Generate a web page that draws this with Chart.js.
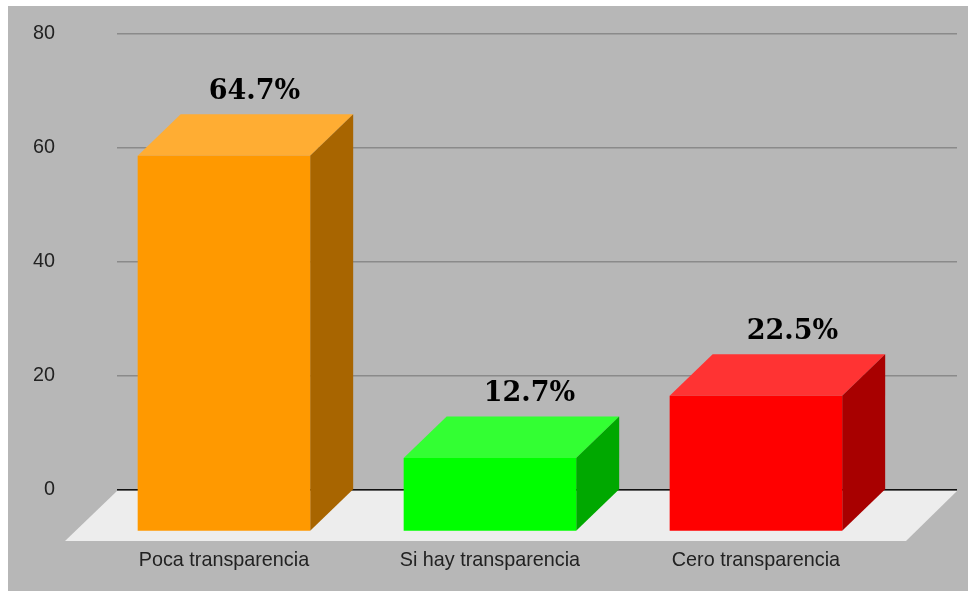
<!DOCTYPE html>
<html>
<head>
<meta charset="utf-8">
<style>
    html, body { margin: 0; padding: 0; background: #fff; overflow: hidden; }
    #panel { position: absolute; left: 8px; top: 6px; right: 0; bottom: 0; background: #b7b7b7; }
    #wrap { position: absolute; left: 0; top: 0; width: 968px; height: 591px; }
</style>
</head>
<body>
<div id="panel"></div>
<div id="wrap"><canvas id="barChart"></canvas></div>
<script src="https://cdn.jsdelivr.net/npm/chart.js@4"></script>
<script>
const categories = ['Poca transparencia', 'Si hay transparencia', 'Cero transparencia'];
const barValues = [65.9, 12.9, 23.8];
const percentLabels = ['64.7%', '12.7%', '22.5%'];
const frontColors = ['#ff9900', '#00ff00', '#ff0000'];
const topColors = ['#ffad33', '#33ff33', '#ff3333'];
const sideColors = ['#a86500', '#00a800', '#a80000'];
const yTicks = [0, 20, 40, 60, 80];

// Сдвиг глубины псевдо-3D
const DEPTH_X = 43;
const DEPTH_Y = 41.5;

function fillPoly(ctx, points, color) {
    ctx.fillStyle = color;
    ctx.beginPath();
    points.forEach((p, i) => i ? ctx.lineTo(p[0], p[1]) : ctx.moveTo(p[0], p[1]));
    ctx.closePath();
    ctx.fill();
}

const floorPlugin = {
    id: 'floor',
    beforeDatasetsDraw(chart) {
        const area = chart.chartArea;
        const y0 = chart.scales.y.getPixelForValue(0) + 1;
        fillPoly(chart.ctx, [
            [area.left, y0],
            [area.right, y0],
            [area.right - 51, y0 + 50],
            [area.left - 52, y0 + 50]
        ], '#ededed');
    }
};

// Рисуем бары сами: передняя грань, верх и бок от элементов Chart.js
const bars3dPlugin = {
    id: 'bars3d',
    beforeDatasetDraw(chart, args) {
        const ctx = chart.ctx;
        args.meta.data.forEach((bar, i) => {
            const left = bar.x - bar.width / 2;
            const right = bar.x + bar.width / 2;
            const top = bar.y + DEPTH_Y;
            const bottom = bar.base + DEPTH_Y;
            fillPoly(ctx, [[left, top], [right, top], [right + DEPTH_X, bar.y], [left + DEPTH_X, bar.y]], topColors[i]);
            fillPoly(ctx, [[right, top], [right + DEPTH_X, bar.y], [right + DEPTH_X, bar.base], [right, bottom]], sideColors[i]);
            fillPoly(ctx, [[left, top], [right, top], [right, bottom], [left, bottom]], frontColors[i]);
        });
        // Подписи процентов над барами
        const shifts = [30.5, 39.5, 36.5];
        ctx.save();
        ctx.font = 'bold 27px "DejaVu Serif"';
        ctx.fillStyle = '#000';
        ctx.textAlign = 'center';
        ctx.textBaseline = 'middle';
        args.meta.data.forEach((bar, i) => {
            ctx.fillText(percentLabels[i], bar.x + shifts[i], bar.y - 22);
        });
        ctx.restore();
        return false;
    }
};

new Chart(document.getElementById('barChart').getContext('2d'), {
    type: 'bar',
    data: {
        datasets: [{
            data: barValues.map((v, i) => ({ x: i, y: v })),
            backgroundColor: frontColors,
            barThickness: 172.5
        }]
    },
    plugins: [floorPlugin, bars3dPlugin],
    options: {
        responsive: true,
        maintainAspectRatio: false,
        animation: false,
        layout: { padding: { top: 34, right: 11, left: 0, bottom: 0 } },
        plugins: {
            legend: { display: false },
            tooltip: { enabled: false }
        },
        scales: {
            x: {
                type: 'linear',
                offset: false,
                min: -0.402,
                max: 2.756,
                grid: { display: false },
                border: { display: false },
                afterBuildTicks(scale) {
                    scale.ticks = categories.map((c, i) => ({ value: i }));
                },
                afterFit(scale) {
                    scale.height = 101;
                },
                ticks: {
                    autoSkip: false,
                    maxRotation: 0,
                    padding: 51,
                    color: '#222',
                    font: { family: '"Liberation Sans"', size: 19.8 },
                    callback: value => categories[value]
                }
            },
            y: {
                min: 0,
                max: 80,
                afterBuildTicks(scale) {
                    scale.ticks = yTicks.map(v => ({ value: v }));
                },
                afterFit(scale) {
                    scale.width = 117;
                },
                border: { display: false },
                grid: {
                    tickLength: 62,
                    tickColor: 'transparent',
                    color: ctx => ctx.tick.value === 0 ? '#111' : '#8a8a8a',
                    lineWidth: 1.5
                },
                ticks: {
                    padding: 0,
                    color: '#222',
                    font: { family: '"Liberation Sans"', size: 19.8 }
                }
            }
        }
    }
});
</script>
</body>
</html>
